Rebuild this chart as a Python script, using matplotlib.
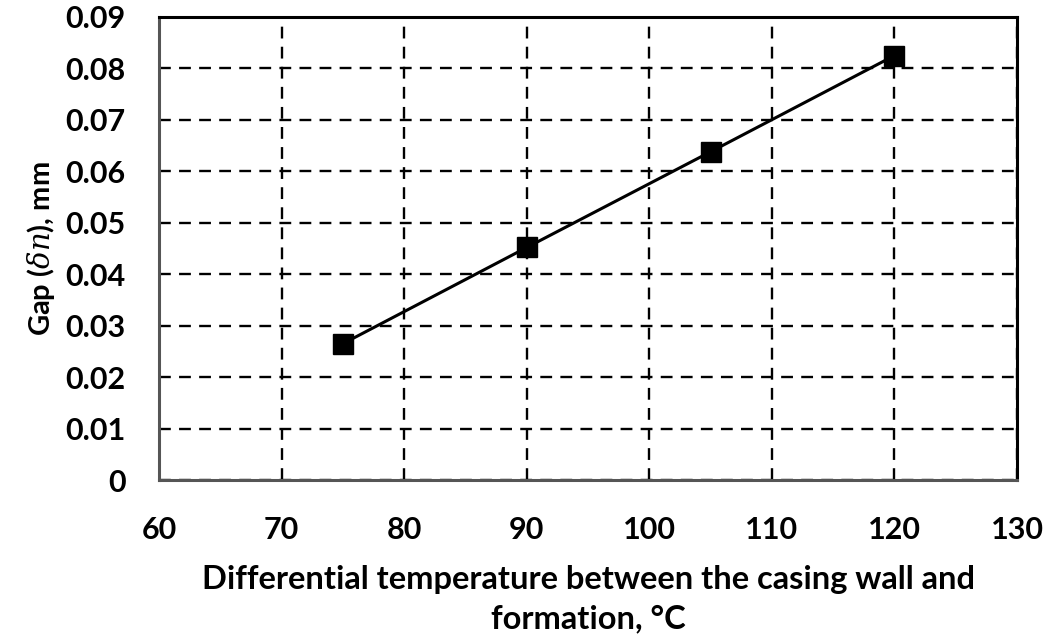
import matplotlib
matplotlib.use("Agg")
import matplotlib.pyplot as plt

# Data
temp_diff = [75, 90, 105, 120]
gap_mm = [0.0265, 0.0452, 0.0638, 0.0825]
x_ticks = [60, 70, 80, 90, 100, 110, 120, 130]
y_ticks = [0, 0.01, 0.02, 0.03, 0.04, 0.05, 0.06, 0.07, 0.08, 0.09]
y_tick_labels = ["0", "0.01", "0.02", "0.03", "0.04", "0.05", "0.06", "0.07", "0.08", "0.09"]

plt.rcParams['font.family'] = ['Lato', 'DejaVu Sans']
plt.rcParams['mathtext.fontset'] = 'dejavuserif'

fig = plt.figure(figsize=(10.61, 6.39), dpi=100)
ax = fig.add_axes([0.1499, 0.2488, 0.8086, 0.7246])

ax.plot(temp_diff, gap_mm, color='black', linewidth=2.2, marker='s',
        markersize=14, markerfacecolor='black', zorder=3)

ax.set_xlim(60, 130)
ax.set_ylim(0, 0.09)
ax.set_xticks(x_ticks)
ax.set_yticks(y_ticks)
ax.set_yticklabels(y_tick_labels)
ax.tick_params(length=0, labelsize=22)
ax.tick_params(axis='x', pad=26)
ax.tick_params(axis='y', pad=24)
for lab in ax.get_xticklabels() + ax.get_yticklabels():
    lab.set_fontweight('bold')

ax.grid(True, color='black', linestyle=(0, (5, 3.5)), linewidth=1.7)
for side in ['top', 'right']:
    ax.spines[side].set_color('black')
    ax.spines[side].set_linewidth(2.2)
for side in ['left', 'bottom']:
    ax.spines[side].set_color('#555555')
    ax.spines[side].set_linewidth(2.2)

ax.set_xlabel("Differential temperature between the casing wall and\nformation, °C",
              fontsize=23.5, fontweight='bold', labelpad=15, linespacing=1.45)
ax.set_ylabel(r"Gap ($\delta n$), mm", fontsize=21, fontweight='bold', labelpad=6)

fig.savefig("out.png", dpi=100)
